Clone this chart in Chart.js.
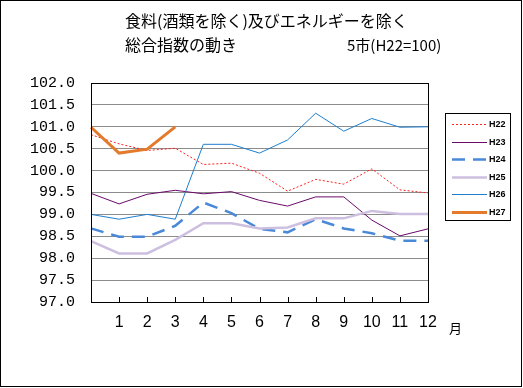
<!DOCTYPE html>
<html>
<head>
<meta charset="utf-8">
<script src="https://cdn.jsdelivr.net/npm/chart.js@4.4.1/dist/chart.umd.min.js"></script>
<style>
  html, body { margin: 0; padding: 0; background: #fff; }
  #wrap { width: 523px; height: 388px; position: relative; }
</style>
</head>
<body>
<div id="wrap"><canvas id="myChart" width="523" height="388"></canvas></div>
<script>
// 月 (0 = 起点, ラベルなし)
var months = ['', '1', '2', '3', '4', '5', '6', '7', '8', '9', '10', '11', '12'];

var h22 = [100.82, 100.61, 100.46, 100.51, 100.14, 100.17, 99.94, 99.53, 99.80, 99.69, 100.04, 99.56, 99.49];
var h23 = [99.48, 99.24, 99.46, 99.55, 99.47, 99.52, 99.32, 99.19, 99.40, 99.40, 98.87, 98.51, 98.67];
var h24 = [98.68, 98.49, 98.49, 98.74, 99.27, 99.03, 98.67, 98.59, 98.89, 98.68, 98.57, 98.40, 98.40];
var h25 = [98.39, 98.11, 98.11, 98.42, 98.80, 98.80, 98.68, 98.70, 98.91, 98.91, 99.08, 99.01, 99.01];
var h26 = [99.00, 98.89, 99.00, 98.89, 100.60, 100.60, 100.40, 100.70, 101.31, 100.90, 101.19, 100.99, 101.00];
var h27 = [100.99, 100.40, 100.49, 101.00];

var yMin = 97.0, yMax = 102.0, yStep = 0.5;

var titleLine1 = '食料(酒類を除く)及びエネルギーを除く';
var titleLine2 = '総合指数の動き';
var titleNote = '5市(H22=100)';
var unitLabel = '月';

var ctx = document.getElementById('myChart');

function series(label, data, color, width, dash, order) {
  return {
    label: label,
    data: data,
    borderColor: color,
    backgroundColor: color,
    borderWidth: width,
    borderDash: dash,
    pointRadius: 0,
    tension: 0,
    fill: false,
    order: order
  };
}

// 枠・タイトル・凡例・目盛り線を描く
var decorPlugin = {
  id: 'decor',
  beforeDraw: function (chart) {
    var c = chart.ctx;
    c.save();
    c.fillStyle = '#fff';
    c.fillRect(0, 0, chart.width, chart.height);
    c.restore();
  },
  afterDatasetsDraw: function (chart) {
    var c = chart.ctx, a = chart.chartArea, xs = chart.scales.x;
    c.save();
    c.strokeStyle = '#000';
    c.lineWidth = 1;
    c.strokeRect(Math.round(a.left) + 0.5, Math.round(a.top) + 0.5,
      Math.round(a.right - a.left), Math.round(a.bottom - a.top));
    // 内向きの目盛り
    c.beginPath();
    for (var i = 1; i < months.length; i++) {
      var px = Math.round(xs.getPixelForValue(i)) + 0.5;
      c.moveTo(px, a.bottom);
      c.lineTo(px, a.bottom - 5);
    }
    c.stroke();
    c.restore();
  },
  afterDraw: function (chart) {
    var c = chart.ctx;
    c.save();
    // 外枠
    c.strokeStyle = '#000';
    c.lineWidth = 1;
    c.strokeRect(0.5, 0.5, 521, 386);

    // タイトル
    c.fillStyle = '#000';
    c.font = '16px "Noto Sans CJK JP"';
    c.textBaseline = 'alphabetic';
    c.textAlign = 'left';
    c.fillText(titleLine1, 125, 27);
    c.fillText(titleLine2, 125, 51);
    c.font = '15px "Noto Sans CJK JP"';
    c.fillText(titleNote, 347, 51);

    // 単位
    c.font = '13px "Noto Sans CJK JP"';
    c.fillText(unitLabel, 449, 333);

    // 凡例
    c.strokeRect(445.5, 113.5, 65, 107);
    var sets = chart.data.datasets;
    c.font = 'bold 9px "Liberation Sans"';
    c.textBaseline = 'middle';
    for (var k = 0; k < sets.length; k++) {
      var ds = sets[k];
      var y = Math.round(124 + k * 17.5) + 0.5;
      c.beginPath();
      c.strokeStyle = ds.borderColor;
      c.lineWidth = ds.borderWidth;
      c.setLineDash(ds.borderDash || []);
      c.moveTo(452, y);
      c.lineTo(487, y);
      c.stroke();
      c.setLineDash([]);
      c.fillStyle = '#000';
      c.fillText(ds.label, 489, y);
    }
    c.restore();
  }
};

var myLineChart = new Chart(ctx, {
  type: 'line',
  data: {
    labels: months,
    datasets: [
      series('H22', h22, '#ff2020', 1, [2, 2], 6),
      series('H23', h23, '#6a0a6a', 1, [], 5),
      series('H24', h24, '#4a88d8', 2.5, [13, 8], 4),
      series('H25', h25, '#cdbfe0', 2.5, [], 3),
      series('H26', h26, '#1f7fcf', 1, [], 2),
      series('H27', h27, '#e47a2c', 3, [], 1)
    ]
  },
  options: {
    responsive: false,
    animation: false,
    layout: { padding: { left: 0, right: 95, top: 83, bottom: 0 } },
    plugins: {
      legend: { display: false },
      tooltip: { enabled: false }
    },
    scales: {
      x: {
        offset: false,
        grid: { display: false, drawTicks: false },
        border: { display: true, color: '#000' },
        ticks: {
          color: '#000',
          padding: 11,
          maxRotation: 0,
          autoSkip: false,
          font: { family: 'Liberation Sans', size: 16 }
        },
        afterFit: function (scale) { scale.height = 86; }
      },
      y: {
        min: yMin,
        max: yMax,
        grid: { color: '#8c8c8c', drawTicks: false },
        border: { display: true, color: '#000' },
        ticks: {
          stepSize: yStep,
          color: '#000',
          padding: 16,
          font: { family: 'Liberation Mono', size: 15 },
          callback: function (v) { return Number(v).toFixed(1); }
        },
        afterFit: function (scale) { scale.width = 91; }
      }
    }
  },
  plugins: [decorPlugin]
});
</script>
</body>
</html>
